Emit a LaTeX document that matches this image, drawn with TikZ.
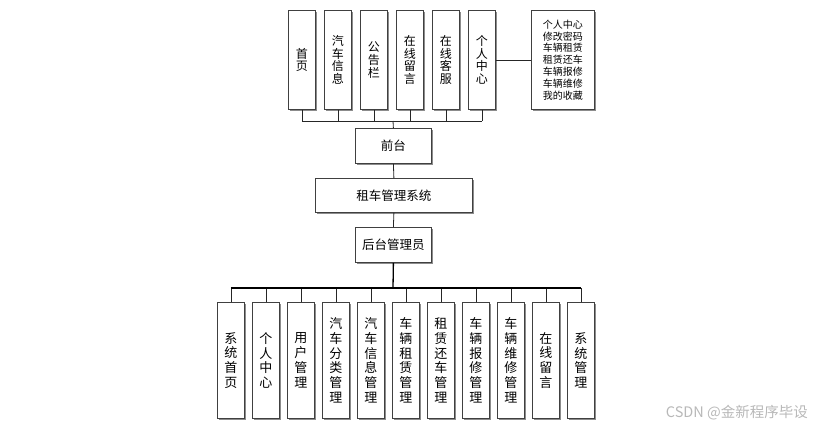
\documentclass[tikz,border=0pt]{standalone}
\usepackage{fontspec}
\setmainfont{Noto Sans CJK SC}
\usetikzlibrary{shadows}
\begin{document}
\begin{tikzpicture}[x=1pt,y=-1pt,
  box/.style={draw=black!75,line width=0.8pt,fill=white,inner sep=0pt,anchor=north west,
     drop shadow={shadow xshift=1.6pt,shadow yshift=-1.6pt,fill=black!45,opacity=1},align=center},
  tbox/.style={box,minimum width=27pt,minimum height=99pt,font=\fontsize{12}{12.8}\selectfont},
  bbox/.style={box,minimum width=27pt,minimum height=116pt,font=\fontsize{13}{14.8}\selectfont},
  conn/.style={draw=black!85,line width=0.8pt},
  thick conn/.style={draw=black,line width=1.3pt}]
\useasboundingbox (0,0) rectangle (816,432);
% top row
\node[tbox] (t1) at (288,10) {首\\页};
\node[tbox] (t2) at (324,10) {汽\\车\\信\\息};
\node[tbox] (t3) at (360,10) {公\\告\\栏};
\node[tbox] (t4) at (396,10) {在\\线\\留\\言};
\node[tbox] (t5) at (432,10) {在\\线\\客\\服};
\node[tbox] (t6) at (468,10) {个\\人\\中\\心};
\node[box,minimum width=63pt,minimum height=99pt,font=\fontsize{10}{11.8}\selectfont] (tr) at (531,10)
  {个人中心\\修改密码\\车辆租赁\\租赁还车\\车辆报修\\车辆维修\\我的收藏};
\draw[conn] (t6.east) -- (tr.west);
% middle
\node[box,minimum width=76pt,minimum height=35pt,font=\fontsize{12.5}{14}\selectfont] (qt) at (355,128) {前台};
\node[box,minimum width=157pt,minimum height=34pt,font=\fontsize{12.5}{14}\selectfont] (sys) at (315,178) {租车管理系统};
\node[box,minimum width=76pt,minimum height=35pt,font=\fontsize{12.5}{14}\selectfont] (ht) at (355,227) {后台管理员};
% top bus
\coordinate (tb) at (393,121);
\foreach \n in {t1,t2,t3,t4,t5,t6}{\draw[conn] (\n.south) -- (\n.south |- tb);}
\draw[conn] (t1.south |- tb) -- (t6.south |- tb);
\draw[conn] (tb) -- (qt.north);
\draw[conn] (qt.south) -- (sys.north);
\draw[conn] (sys.south) -- (ht.north);
% bottom row
\node[bbox] (b1) at (217,302) {系\\统\\首\\页};
\node[bbox] (b2) at (252,302) {个\\人\\中\\心};
\node[bbox] (b3) at (287,302) {用\\户\\管\\理};
\node[bbox] (b4) at (322,302) {汽\\车\\分\\类\\管\\理};
\node[bbox] (b5) at (357,302) {汽\\车\\信\\息\\管\\理};
\node[bbox] (b6) at (392,302) {车\\辆\\租\\赁\\管\\理};
\node[bbox] (b7) at (427,302) {租\\赁\\还\\车\\管\\理};
\node[bbox] (b8) at (462,302) {车\\辆\\报\\修\\管\\理};
\node[bbox] (b9) at (497,302) {车\\辆\\维\\修\\管\\理};
\node[bbox] (b10) at (532,302) {在\\线\\留\\言};
\node[bbox] (b11) at (567,302) {系\\统\\管\\理};
\coordinate (bb) at (393,288);
\draw[thick conn] (ht.south) -- (bb);
\foreach \n in {b1,b2,b3,b4,b5,b6,b7,b8,b9,b10,b11}{\draw[conn] (\n.north) -- (\n.north |- bb);}
\draw[thick conn] (b1.north |- bb) -- (b11.north |- bb);
% watermark
\node[anchor=east,text=black!28,font=\fontsize{14.5}{16}\selectfont,inner sep=0pt] (wm) at (808,413) {CSDN @金新程序毕设};
\end{tikzpicture}
\end{document}
